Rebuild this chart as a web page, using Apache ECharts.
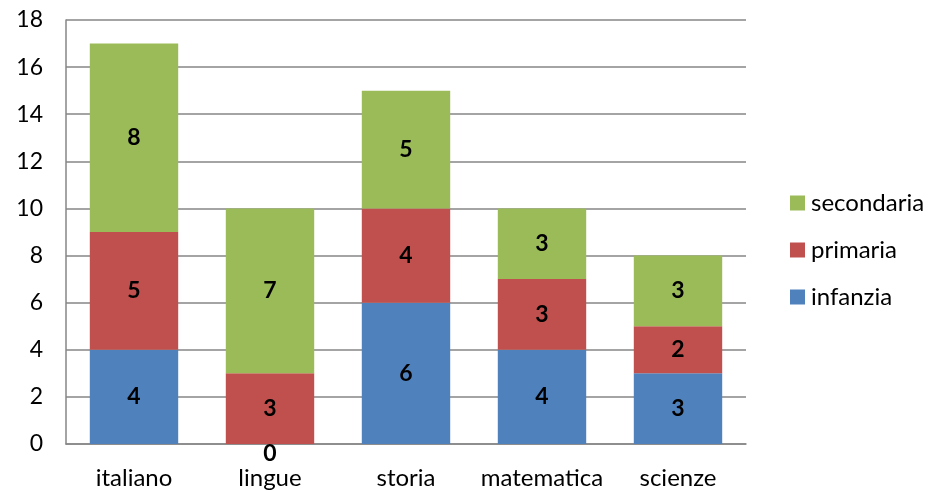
<!DOCTYPE html>
<html><head><meta charset="utf-8">
<script src="https://cdn.jsdelivr.net/npm/echarts@6/dist/echarts.min.js"></script>
<style>html,body{margin:0;padding:0;background:#fff}#c{width:932px;height:491px}</style>
</head><body><div id="c"></div>
<script>
const categories = ['italiano','lingue','storia','matematica','scienze'];
const infanzia = [4,0,6,4,3];
const primaria = [5,3,4,3,2];
const secondaria = [8,7,5,3,3];
const yTicks = [0,2,4,6,8,10,12,14,16,18];

const FONT = 'Lato, "Open Sans", sans-serif';
const chart = echarts.init(document.getElementById('c'));
const lbl = {show:true, position:'inside', color:'#000', fontWeight:'bold', fontSize:23, fontFamily:FONT};
function mk(name, data, color){
  return {name, type:'bar', stack:'a', barWidth:'65%', itemStyle:{color},
    label:lbl,
    data:data.map(v => v === 0 ? {value:v, label:{offset:[0,10]}} : v)};
}
chart.setOption({
  animation:false,
  grid:{left:66, right:186, top:20, bottom:47, containLabel:false},
  legend:{orient:'vertical', left:785, top:186, itemWidth:15, itemHeight:15, itemGap:23,
    data:['secondaria','primaria','infanzia'], icon:'rect',
    textStyle:{fontSize:24, fontFamily:FONT, color:'#000', padding:[0,0,0,1]}},
  xAxis:{type:'category', data:categories,
    axisLine:{lineStyle:{color:'#868686', width:1.5}}, axisTick:{show:false},
    axisLabel:{fontSize:24, fontFamily:FONT, color:'#000', margin:22, interval:0, hideOverlap:false}},
  yAxis:{type:'value', min:yTicks[0], max:yTicks[yTicks.length-1], interval:2,
    axisLine:{show:true, lineStyle:{color:'#868686', width:1.5}}, axisTick:{show:false},
    splitLine:{lineStyle:{color:'#868686', width:1.5}},
    axisLabel:{fontSize:23, fontFamily:FONT, color:'#000', margin:23}},
  series:[mk('infanzia', infanzia, '#4F81BD'), mk('primaria', primaria, '#C0504D'), mk('secondaria', secondaria, '#9BBB59')]
});
</script></body></html>
